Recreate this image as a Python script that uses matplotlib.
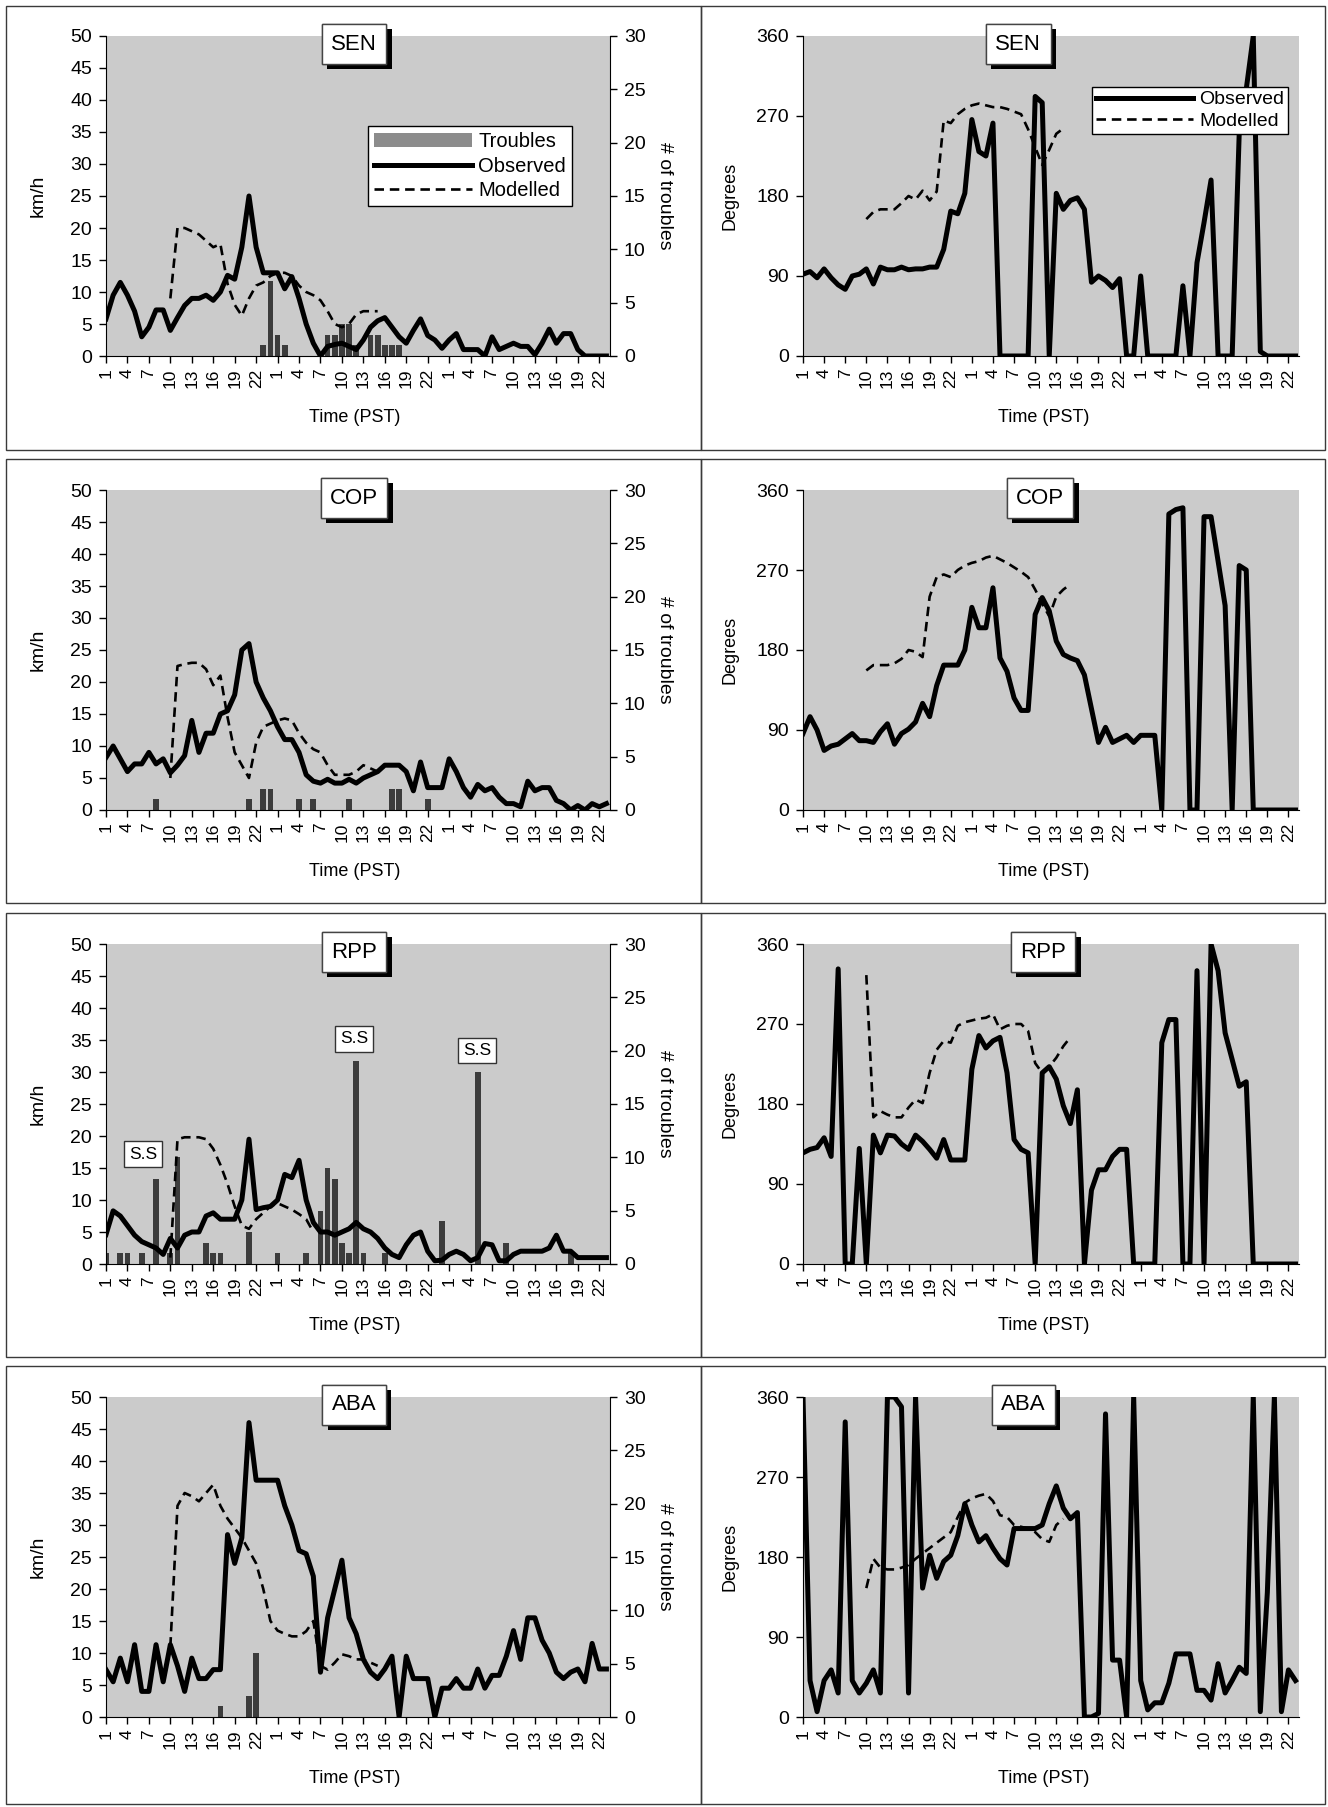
import numpy as np
import matplotlib
matplotlib.use("Agg")
import matplotlib.pyplot as plt
import matplotlib.patheffects as pe
from matplotlib.lines import Line2D
from matplotlib.patches import Patch, Rectangle

plt.rcParams['font.family'] = ['Liberation Sans', 'DejaVu Sans']

# ---------------- data ----------------
hour_labels = [1, 4, 7, 10, 13, 16, 19, 22] * 3
stations = ["SEN", "COP", "RPP", "ABA"]
N = 71

sen_spd_obs = [5.8, 9.5, 11.5, 9.5, 7, 3, 4.5, 7.2, 7.2, 4,
               6, 7.9, 9, 9, 9.5, 8.7, 10, 12.6, 12, 17,
               25, 17, 13, 13, 13, 10.5, 12.4, 9, 5, 2,
               0, 1.5, 1.8, 2, 1.5, 1, 2.5, 4.5, 5.5, 6,
               4.5, 3, 2, 4, 5.8, 3.2, 2.5, 1.2, 2.5, 3.5,
               1, 1, 1, 0, 3, 1, 1.5, 2, 1.5, 1.5,
               0.2, 2, 4.2, 2, 3.5, 3.5, 1, 0, 0, 0, 0]
sen_spd_mod = [None] * 9 + [9, 20, 20, 19.5, 19, 18, 17, 17.5, 11.3, 8,
                            6.3, 9, 11, 11.5, 12.5, 13, 13, 12.5, 11, 10,
                            9.5, 8.7, 7, 5, 4.5, 5, 6.5, 7, 7, 7] + [None] * 32
sen_tr_hours = [22, 23, 24, 25, 31, 32, 33, 34, 35, 37, 38, 39, 40, 41]
sen_tr_counts = [1, 7, 2, 1, 2, 2, 3, 3, 1, 2, 2, 1, 1, 1]

cop_spd_obs = [8.2, 10, 8, 6, 7.2, 7.2, 9, 7.2, 8, 5.8,
               7, 8.5, 14, 9, 12, 12, 15, 15.5, 18, 25,
               26, 20, 17.5, 15.5, 13, 11, 11, 9, 5.5, 4.5,
               4.2, 4.8, 4.2, 4.2, 4.8, 4.2, 5, 5.5, 6, 7,
               7, 7, 6, 3, 7.5, 3.5, 3.5, 3.5, 8, 6,
               3.5, 2, 4, 3, 3.5, 2, 1, 1, 0.5, 4.5,
               3, 3.5, 3.5, 1.5, 1, 0, 0.7, 0, 1, 0.5, 1]
cop_spd_mod = [None] * 9 + [5, 22.5, 22.8, 23, 23, 22, 19.5, 21, 14.5, 9,
                            7, 5, 10.5, 13, 13.5, 14, 14.3, 14, 12, 10.5,
                            9.5, 9, 7, 5.5, 5.5, 5.5, 6, 7, 6.5, 6] + [None] * 32
cop_tr_hours = [7, 20, 22, 23, 27, 29, 34, 40, 41, 45]
cop_tr_counts = [1, 1, 2, 2, 1, 1, 1, 2, 2, 1]

rpp_spd_obs = [4.6, 8.3, 7.5, 6, 4.5, 3.5, 3, 2.5, 1.5, 4,
               2.5, 4.5, 5, 5, 7.5, 8, 7, 7, 7, 10,
               19.5, 8.5, 8.8, 9, 10, 14, 13.5, 16.2, 10, 6.5,
               5, 5, 4.5, 5, 5.5, 6.5, 5.5, 5, 4, 2.5,
               1.5, 1, 3, 4.5, 5, 2, 0.5, 0.6, 1.5, 2,
               1.5, 0.5, 1, 3.2, 3, 0.5, 0.5, 1.5, 2, 2,
               2, 2, 2.5, 4.5, 2, 2, 1, 1, 1, 1, 1]
rpp_spd_mod = [None] * 9 + [1, 19.5, 19.8, 19.8, 19.8, 19.5, 18, 15.5, 12.5, 9,
                            6, 5.5, 7, 8, 9, 9.5, 9, 8.5, 7.8, 7,
                            5] + [None] * 41
rpp_tr_hours = [0, 2, 3, 5, 7, 9, 10, 14, 15, 16, 20, 24, 28, 30, 31, 32, 33, 34, 35,
                36, 39, 47, 52, 56, 65]
rpp_tr_counts = [1, 1, 1, 1, 8, 1, 10, 2, 1, 1, 3, 1, 1, 5, 9, 8, 2, 1, 19,
                 1, 1, 4, 18, 2, 1]

aba_spd_obs = [7.4, 5.5, 9.2, 5.5, 11.3, 4, 4, 11.3, 5.5, 11.3,
               8, 4, 9.2, 6, 6, 7.4, 7.4, 28.5, 24, 28,
               46, 37, 37, 37, 37, 33, 30, 26, 25.5, 22,
               7, 15.5, 20, 24.5, 15.5, 13, 9, 7, 6, 7.5,
               9.5, 0, 9.5, 6, 6, 6, 0, 4.5, 4.5, 6,
               4.5, 4.5, 7.5, 4.5, 6.5, 6.5, 9.5, 13.5, 9, 15.5,
               15.5, 12, 10, 7, 6, 7, 7.5, 5.5, 11.5, 7.5, 7.5]
aba_spd_mod = [None] * 9 + [11, 33, 35, 34.5, 33.7, 35, 36.3, 33, 31, 29.5,
                            28, 26, 24, 20, 15, 13.5, 13, 12.6, 12.6, 13.4,
                            15, 8, 7.4, 8.5, 9.8, 9.5, 9, 9, 8.5, 8] + [None] * 32
aba_tr_hours = [16, 20, 21]
aba_tr_counts = [1, 2, 6]

sen_dir_obs = [92, 95, 88, 98, 88, 80, 75, 90, 92, 98,
               81, 100, 97, 97, 100, 97, 98, 98, 100, 100,
               120, 163, 160, 183, 266, 230, 225, 262, 0, 0,
               0, 0, 0, 292, 285, 0, 183, 165, 175, 178,
               165, 83, 90, 85, 77, 87, 0, 0, 90, 0,
               0, 0, 0, 0, 79, 0, 105, 150, 198, 0,
               0, 0, 250, 300, 360, 5, 0, 0, 0, 0, 0]
sen_dir_mod = [None] * 9 + [154, 162, 165, 165, 165, 172, 180, 176, 186, 175,
                            185, 265, 262, 272, 278, 282, 284, 282, 280, 280,
                            278, 275, 272, 255, 235, 215, 232, 250, 256] + [None] * 33

cop_dir_obs = [86, 105, 90, 67, 72, 74, 80, 86, 78, 78,
               76, 88, 97, 74, 86, 91, 99, 120, 105, 140,
               163, 163, 163, 180, 228, 205, 205, 250, 171, 156,
               126, 112, 112, 220, 239, 224, 190, 175, 171, 168,
               152, 114, 76, 93, 76, 80, 84, 76, 84, 84,
               84, 0, 333, 338, 340, 0, 0, 330, 330, 280,
               230, 0, 275, 270, 0, 0, 0, 0, 0, 0, 0]
cop_dir_mod = [None] * 9 + [157, 163, 163, 163, 165, 170, 180, 178, 172, 240,
                            262, 265, 262, 270, 275, 278, 280, 284, 286, 282,
                            278, 273, 268, 262, 248, 232, 218, 240, 248, 254] + [None] * 32

rpp_dir_obs = [125, 129, 131, 142, 121, 332, 0, 0, 130, 0,
               145, 125, 145, 144, 135, 129, 145, 138, 129, 119,
               140, 117, 117, 117, 219, 257, 243, 251, 255, 215,
               140, 129, 125, 0, 215, 222, 208, 178, 158, 196,
               0, 83, 106, 106, 121, 129, 129, 0, 0, 0,
               0, 249, 275, 275, 0, 0, 330, 0, 360, 330,
               260, 230, 200, 205, 0, 0, 0, 0, 0, 0, 0]
rpp_dir_mod = [None] * 9 + [325, 165, 172, 168, 165, 165, 176, 185, 181, 215,
                            241, 251, 249, 268, 272, 274, 276, 277, 281, 264,
                            268, 270, 270, 262, 226, 215, 222, 232, 245, 255] + [None] * 32

aba_dir_obs = [360, 41, 6, 41, 53, 27, 332, 41, 27, 38,
               53, 27, 360, 360, 349, 27, 360, 145, 182, 156,
               175, 182, 204, 240, 216, 197, 204, 190, 178, 171,
               212, 212, 212, 212, 216, 240, 260, 235, 223, 230,
               0, 0, 4, 341, 64, 64, 0, 360, 41, 8,
               16, 16, 38, 71, 71, 71, 30, 30, 19, 60,
               27, 41, 56, 49, 360, 6, 140, 360, 6, 53, 41]
aba_dir_mod = [None] * 9 + [145, 178, 168, 166, 166, 168, 171, 178, 184, 190,
                            196, 202, 208, 225, 241, 246, 249, 251, 243, 227,
                            225, 216, 214, 212, 208, 200, 197, 216, 223] + [None] * 33

spd_obs = [sen_spd_obs, cop_spd_obs, rpp_spd_obs, aba_spd_obs]
spd_mod = [sen_spd_mod, cop_spd_mod, rpp_spd_mod, aba_spd_mod]
tr_hours = [sen_tr_hours, cop_tr_hours, rpp_tr_hours, aba_tr_hours]
tr_counts = [sen_tr_counts, cop_tr_counts, rpp_tr_counts, aba_tr_counts]
dir_obs = [sen_dir_obs, cop_dir_obs, rpp_dir_obs, aba_dir_obs]
dir_mod = [sen_dir_mod, cop_dir_mod, rpp_dir_mod, aba_dir_mod]

ss_labels = ["S.S", "S.S", "S.S"]


def arr(lst):
    return np.array([np.nan if v is None else v for v in lst], dtype=float)


# ---------------- layout ----------------
W, H = 1328, 1807
fig = plt.figure(figsize=(W / 100, H / 100), dpi=100)
fig.patch.set_facecolor("white")

BG = "#cbcbcb"
OBS_LW = 3.6
MOD_LW = 1.9
MOD_DASH = (0, (3.6, 2.2))
BAR_C = "#3c3c3c"
XMAX = 70.5

row_box_top = [6, 459, 913, 1366]
row_box_bot = [450, 903, 1357, 1804]
axes_top = [36, 490, 944, 1397]
AX_H = 320
L_X0, L_W = 106, 504
R_X0, R_W = 803, 496
left_title_x = [0.492, 0.492, 0.492, 0.492]
right_title_x = [0.434, 0.478, 0.484, 0.444]

x = np.arange(N)
xt = list(range(0, 70, 3))
xtl = [str(h) for h in hour_labels]

# cell frames
for t, b in zip(row_box_top, row_box_bot):
    for (x0, x1) in [(6, 701), (701, 1325)]:
        fig.add_artist(Rectangle((x0 / W, 1 - b / H), (x1 - x0) / W, (b - t) / H,
                                 transform=fig.transFigure, fill=False,
                                 ec="#3a3a3a", lw=1.0))


def title_box(ax, name, xf):
    t = ax.text(xf, 0.975, name, transform=ax.transAxes, color="black",
                ha="center", va="center", fontsize=16, zorder=20, clip_on=False,
                bbox=dict(boxstyle="square,pad=0.42", fc="white", ec="#444444", lw=1.0))
    t.get_bbox_patch().set_path_effects(
        [pe.withSimplePatchShadow(offset=(3.8, -3.8), shadow_rgbFace="black", alpha=1.0),
         pe.Normal()])


def style_x(ax):
    ax.set_xlim(0, XMAX)
    ax.set_xticks(xt)
    ax.set_xticklabels(xtl, rotation=90, fontsize=12.5)
    ax.tick_params(axis="x", direction="out", length=5, width=1, pad=4)


for r in range(4):
    top = axes_top[r]
    yb = 1 - (top + AX_H) / H
    hh = AX_H / H

    # ---------- left: speed + troubles ----------
    axb = fig.add_axes([L_X0 / W, yb, L_W / W, hh])
    axb.set_facecolor(BG)
    axl = axb.twinx()
    axb.yaxis.tick_right()
    axb.yaxis.set_label_position("right")
    axl.yaxis.tick_left()
    axl.yaxis.set_label_position("left")

    axb.bar(tr_hours[r], tr_counts[r], width=0.8, color=BAR_C, edgecolor="none", zorder=2)
    axb.set_ylim(0, 30)
    axb.set_yticks(range(0, 31, 5))
    axl.plot(x, arr(spd_mod[r]), color="black", lw=MOD_LW, ls=MOD_DASH, zorder=3)
    axl.plot(x, arr(spd_obs[r]), color="black", lw=OBS_LW, zorder=4)
    axl.set_ylim(0, 50)
    axl.set_yticks(range(0, 51, 5))
    style_x(axb)

    for a in (axb, axl):
        a.spines["top"].set_visible(False)
        a.tick_params(axis="y", direction="out", length=5, width=1, labelsize=14, pad=5)
    axb.spines["left"].set_visible(False)
    axl.spines["right"].set_visible(False)
    axl.spines["bottom"].set_visible(False)
    axb.spines["right"].set_visible(True)

    axl.set_ylabel("km/h", fontsize=14)
    axl.yaxis.set_label_coords(-0.118, 0.5)
    axb.set_ylabel("# of troubles", fontsize=14, rotation=270, va="bottom")
    axb.yaxis.set_label_coords(1.092, 0.5)
    axb.set_xlabel("Time (PST)", fontsize=13)
    axb.xaxis.set_label_coords(0.493, -0.165)

    title_box(axl, stations[r], left_title_x[r])

    if r == 0:
        handles = [Patch(facecolor="#8c8c8c", edgecolor="none"),
                   Line2D([], [], color="black", lw=OBS_LW),
                   Line2D([], [], color="black", lw=MOD_LW, ls=MOD_DASH)]
        leg = axl.legend(handles, ["Troubles", "Observed", "Modelled"], loc="upper left",
                         bbox_to_anchor=(0.519, 0.719), frameon=True, fancybox=False,
                         edgecolor="black", framealpha=1, fontsize=14.5,
                         handlelength=4.9, labelspacing=0.28, borderpad=0.3,
                         handletextpad=0.3, borderaxespad=0)
        leg.get_frame().set_linewidth(1.0)
        leg.set_zorder(30)

    if r == 2:
        for lab, (sx, sy) in zip(ss_labels, [(5.2, 10.3), (34.7, 21.1), (51.9, 20.0)]):
            axb.text(sx, sy, lab, ha="center", va="center", fontsize=12.5, zorder=6,
                     bbox=dict(boxstyle="square,pad=0.3", fc="white", ec="#333333", lw=1.0))

    # ---------- right: direction ----------
    axr = fig.add_axes([R_X0 / W, yb, R_W / W, hh])
    axr.set_facecolor(BG)
    axr.plot(x, arr(dir_mod[r]), color="black", lw=MOD_LW, ls=MOD_DASH, zorder=3)
    axr.plot(x, arr(dir_obs[r]), color="black", lw=OBS_LW, zorder=4)
    axr.set_ylim(0, 360)
    axr.set_yticks([0, 90, 180, 270, 360])
    style_x(axr)
    axr.spines["top"].set_visible(False)
    axr.spines["right"].set_visible(False)
    axr.tick_params(axis="y", direction="out", length=5, width=1, labelsize=14, pad=5)
    axr.set_ylabel("Degrees", fontsize=13)
    axr.yaxis.set_label_coords(-0.131, 0.5)
    axr.set_xlabel("Time (PST)", fontsize=13)
    axr.xaxis.set_label_coords(0.485, -0.165)
    title_box(axr, stations[r], right_title_x[r])

    if r == 0:
        handles = [Line2D([], [], color="black", lw=OBS_LW),
                   Line2D([], [], color="black", lw=MOD_LW, ls=MOD_DASH)]
        leg = axr.legend(handles, ["Observed", "Modelled"], loc="upper left",
                         bbox_to_anchor=(0.583, 0.841), frameon=True, fancybox=False,
                         edgecolor="black", framealpha=1, fontsize=14,
                         handlelength=5.0, labelspacing=0.2, borderpad=0.2,
                         handletextpad=0.3, borderaxespad=0)
        leg.get_frame().set_linewidth(1.0)
        leg.set_zorder(30)

fig.savefig("out.png", dpi=100, facecolor="white")
